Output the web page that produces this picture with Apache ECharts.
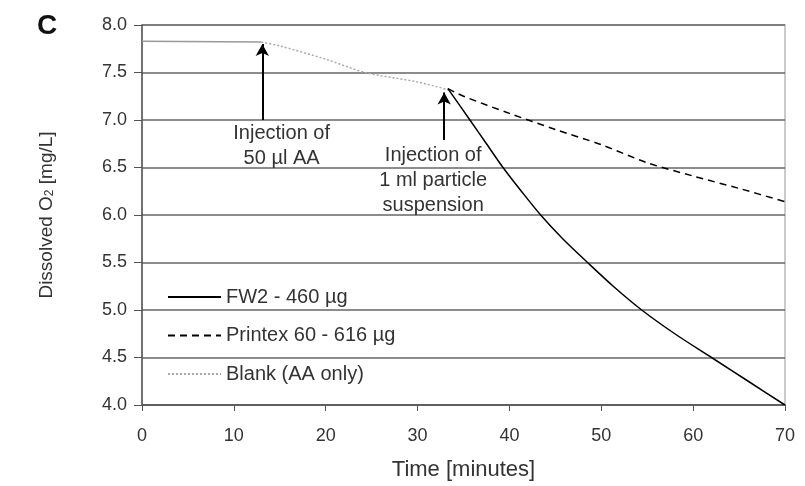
<!DOCTYPE html>
<html>
<head>
<meta charset="utf-8">
<script src="https://cdn.jsdelivr.net/npm/echarts@6/dist/echarts.min.js"></script>
<style>
  html, body { margin: 0; padding: 0; background: #fff; }
  #main { width: 805px; height: 486px; }
</style>
</head>
<body>
<div id="main"></div>
<script>
// values (time in minutes, O2 in mg/L)
const xTicks = [0, 10, 20, 30, 40, 50, 60, 70];
const yTicks = [4.0, 4.5, 5.0, 5.5, 6.0, 6.5, 7.0, 7.5, 8.0];

const baseline = [[0, 7.83], [13, 7.82]];
const blank = [[13, 7.82], [15, 7.78], [20, 7.64], [24.3, 7.5], [30, 7.40], [33.3, 7.32]];
const printex = [[33.3, 7.33], [35, 7.25], [40, 7.07], [45, 6.90], [50, 6.74], [55, 6.55], [60, 6.41], [65, 6.28], [70, 6.14]];
const fw2 = [[33.3, 7.33], [35.7, 7.0], [37.5, 6.75], [39.3, 6.5], [41.3, 6.25], [43.4, 6.0], [45.8, 5.75],
             [48.5, 5.5], [51.3, 5.25], [54.4, 5.0], [58, 4.75], [62, 4.5], [66, 4.25], [70, 4.0]];

const injectAA = { x: 13.1, from: 7.0, to: 7.8, text: "Injection of\n50 µl AA", textAt: [15.2, 6.99] };
const injectParticle = { x: 32.9, from: 6.79, to: 7.29, text: "Injection of\n1 ml particle\nsuspension", textAt: [31.7, 6.76] };

const font = "Liberation Sans, Arial, sans-serif";
const ink = "#333";
const chart = echarts.init(document.getElementById("main"));

function arrow(a) {
  return {
    silent: true,
    symbol: ["none", "arrow"],
    symbolSize: [10, 12],
    lineStyle: { color: "#000", width: 2, type: "solid" },
    label: { show: false },
    emphasis: { disabled: true },
    data: [[{ coord: [a.x, a.from] }, { coord: [a.x, a.to] }]]
  };
}

chart.setOption({
  animation: false,
  textStyle: { fontFamily: font },
  grid: { left: 142, right: 20, top: 25, bottom: 81, show: true, borderColor: "#bbb", borderWidth: 1.5 },
  legend: {
    orient: "vertical",
    left: 167,
    top: 287,
    padding: 0,
    itemWidth: 53,
    itemHeight: 20,
    itemGap: 18.5,
    itemStyle: { opacity: 0 },
    textStyle: { fontFamily: font, fontSize: 20, color: ink },
    data: ["FW2 - 460 µg", "Printex 60 - 616 µg", "Blank (AA only)"]
  },
  xAxis: {
    type: "value",
    min: 0, max: 70, interval: 10,
    name: "Time [minutes]",
    nameLocation: "middle",
    nameGap: 54,
    nameTextStyle: { fontSize: 22, color: ink, fontFamily: font },
    axisLine: { lineStyle: { color: "#555", width: 1.5 } },
    axisTick: { show: true, length: 6, lineStyle: { color: "#555" } },
    axisLabel: { margin: 22, fontSize: 18, color: ink, fontFamily: font,
      formatter: v => xTicks.includes(v) ? String(v) : "" },
    splitLine: { show: false }
  },
  yAxis: {
    type: "value",
    min: 4, max: 8, interval: 0.5,
    name: "Dissolved O{sub|2} [mg/L]",
    nameLocation: "middle",
    nameRotate: 90,
    nameGap: 86,
    nameTextStyle: { fontSize: 19, color: ink, fontFamily: font,
      rich: { sub: { fontSize: 12, verticalAlign: "bottom", padding: [7, 0, 0, 0], color: ink } } },
    axisLine: { show: true, lineStyle: { color: "#555", width: 1.5 } },
    axisTick: { show: true, length: 8, lineStyle: { color: "#555" } },
    axisLabel: { margin: 15, fontSize: 18, color: ink, fontFamily: font,
      formatter: v => yTicks.includes(v) ? v.toFixed(1) : "" },
    splitLine: { show: true, lineStyle: { color: "#666", width: 1.5 } }
  },
  series: [
    {
      name: "base", type: "line", data: baseline, showSymbol: false, symbol: "none",
      color: "#999", lineStyle: { color: "#999", width: 1.5 }, z: 3
    },
    {
      name: "Blank (AA only)", type: "line", data: blank, showSymbol: false, symbol: "none", smooth: 0.3,
      color: "#aaa", lineStyle: { color: "#aaa", width: 1.5, type: [2, 2] }, z: 4,
      markLine: arrow(injectAA)
    },
    {
      name: "Printex 60 - 616 µg", type: "line", data: printex, showSymbol: false, symbol: "none", smooth: 0.3,
      color: "#000", lineStyle: { color: "#000", width: 1.5, type: [7, 5] }, z: 5
    },
    {
      name: "FW2 - 460 µg", type: "line", data: fw2, showSymbol: false, symbol: "none", smooth: 0.3,
      color: "#000", lineStyle: { color: "#000", width: 1.5 }, z: 6,
      markLine: arrow(injectParticle)
    }
  ]
});

// annotation texts and the panel letter, placed through the chart's scales
function note(a) {
  const p = chart.convertToPixel({ gridIndex: 0 }, a.textAt);
  return {
    type: "text", x: p[0], y: p[1],
    style: { text: a.text, fill: ink, font: "20px " + font, align: "center", verticalAlign: "top", lineHeight: 25 }
  };
}
chart.setOption({
  graphic: [
    note(injectAA),
    note(injectParticle),
    { type: "text", x: 37, y: 12, style: { text: "C", fill: "#111", font: "bold 28px " + font } }
  ]
});
</script>
</body>
</html>
